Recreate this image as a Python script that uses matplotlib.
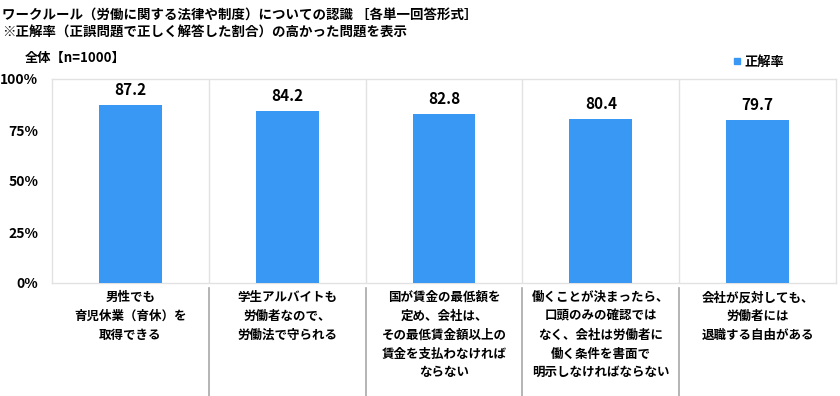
import matplotlib
matplotlib.use("Agg")
import matplotlib.pyplot as plt
from matplotlib.lines import Line2D
import matplotlib.transforms as mtransforms

plt.rcParams['font.family'] = ['Noto Sans CJK JP', 'DejaVu Sans']

categories = [
    "男性でも\n育児休業（育休）を\n取得できる",
    "学生アルバイトも\n労働者なので、\n労働法で守られる",
    "国が賃金の最低額を\n定め、会社は、\nその最低賃金額以上の\n賃金を支払わなければ\nならない",
    "働くことが決まったら、\n口頭のみの確認では\nなく、会社は労働者に\n働く条件を書面で\n明示しなければならない",
    "会社が反対しても、\n労働者には\n退職する自由がある",
]
values = [87.2, 84.2, 82.8, 80.4, 79.7]
series_name = "正解率"
yticks = [0, 25, 50, 75, 100]
ytick_labels = ["0%", "25%", "50%", "75%", "100%"]
title1 = "ワークルール（労働に関する法律や制度）についての認識 ［各単一回答形式］"
title2 = "※正解率（正誤問題で正しく解答した割合）の高かった問題を表示"
subtitle = "全体【n=1000】"

bar_color = "#3898F4"

fig = plt.figure(figsize=(8.4, 3.96), dpi=100)
W, H = 840, 396
ax_left, ax_right, ax_top, ax_bottom = 52, 836, 79, 283
ax = fig.add_axes([ax_left / W, 1 - ax_bottom / H, (ax_right - ax_left) / W, (ax_bottom - ax_top) / H])

x = list(range(len(categories)))
ax.bar(x, values, width=0.4, color=bar_color, zorder=3)
ax.set_xlim(-0.5, len(categories) - 0.5)
ax.set_ylim(0, 100)
ax.set_yticks(yticks)
ax.set_yticklabels(ytick_labels, fontsize=10, fontweight='bold')
ax.tick_params(axis='y', length=0, pad=10)
ax.set_xticks([])
for s in ax.spines.values():
    s.set_color('#e2e2e2')
    s.set_linewidth(1.0)

# inner category separators (light)
for b in range(1, len(categories)):
    ax.axvline(b - 0.5, color='#e2e2e2', linewidth=1.0, zorder=1)

# separators below the axis
trans = mtransforms.blended_transform_factory(ax.transData, ax.transAxes)
ylow = -(H - ax_bottom) / (ax_bottom - ax_top)
for b in range(1, len(categories)):
    ax.add_line(Line2D([b - 0.5, b - 0.5], [-0.025, ylow], transform=trans,
                       color='#a8a8a8', linewidth=1.2, clip_on=False))

# value labels
for xi, v in zip(x, values):
    ax.annotate(f"{v:.1f}", (xi, v), xytext=(0, 5), textcoords='offset points',
                ha='center', va='bottom', fontsize=11, fontweight='bold')

# category labels
for xi, c in zip(x, categories):
    ax.text(xi, -0.04, c, transform=trans, ha='center', va='top',
            fontsize=9, fontweight='bold', linespacing=1.58)

# titles
fig.text(2 / W, 1 - 15 / H, title1, fontsize=9.7, fontweight='bold', va='center', ha='left')
fig.text(2 / W, 1 - 33 / H, title2, fontsize=9.7, fontweight='bold', va='center', ha='left')
fig.text(25 / W, 1 - 58 / H, subtitle, fontsize=9.5, fontweight='bold', va='center', ha='left')

# legend
handle = Line2D([], [], marker='s', color=bar_color, linestyle='', markersize=5)
fig.legend([handle], [series_name], loc='center left', bbox_to_anchor=(726 / W, 1 - 62 / H),
           frameon=False, handlelength=0.6, handletextpad=0.3, borderpad=0,
           prop={'size': 9.5, 'weight': 'bold'})

fig.savefig("out.png", dpi=100)
